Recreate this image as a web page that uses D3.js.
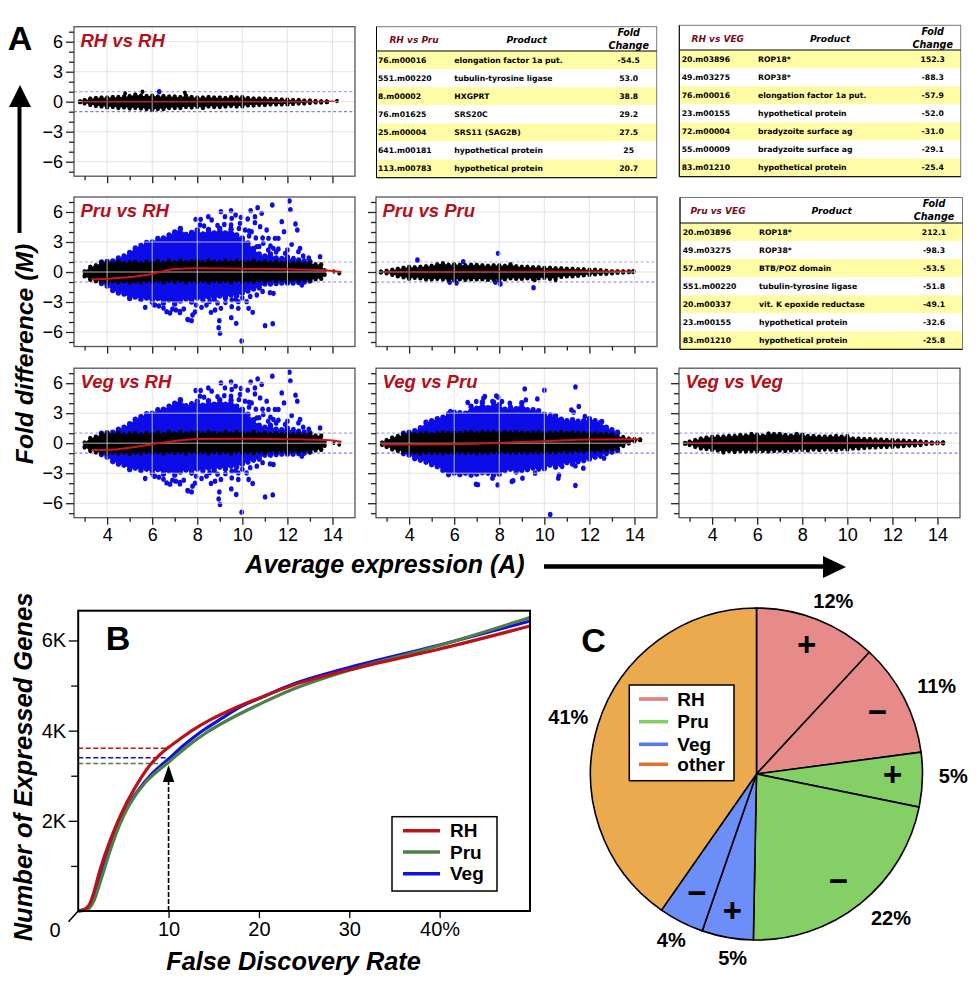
<!DOCTYPE html>
<html>
<head>
<meta charset="utf-8">
<script src="https://cdn.jsdelivr.net/npm/d3@7"></script>
<style>
  html, body { margin: 0; padding: 0; background: #fff; }
  svg { display: block; }
  text { font-family: "Liberation Sans", Arial, sans-serif; fill: #000; }
  .tbl text { font-family: "DejaVu Sans", Verdana, sans-serif; font-weight: bold; font-size: 7.7px; }
</style>
</head>
<body>
<div id="chart"></div>
<script>
// ---- panel A: cloud outlines, rows are [A, lowest M, highest M]
const rhRhBlack = [[2.8,-.1,.1],[3,-.25,.25],[3.25,-.4,.4],[3.5,-.5,.45],[3.75,-.55,.5],[4,-.65,.5],[4.25,-.6,.55],[4.5,-.7,.55],[4.75,-.65,.6],[5,-.75,.65],[5.25,-.7,.8],[5.5,-.75,.7],[5.75,-.8,.65],[6,-.9,.7],[6.25,-.8,.6],[6.5,-.8,.65],[6.75,-.7,.6],[7,-.7,.6],[7.25,-.7,.55],[7.5,-.6,.7],[7.75,-.65,.55],[8,-.6,.5],[8.25,-.7,.5],[8.5,-.55,.55],[8.75,-.6,.5],[9,-.6,.5],[9.25,-.55,.45],[9.5,-.5,.55],[9.75,-.55,.5],[10,-.55,.55],[10.25,-.45,.45],[10.5,-.45,.4],[10.75,-.4,.4],[11,-.4,.4],[11.25,-.35,.35],[11.5,-.35,.35],[11.75,-.35,.3],[12,-.35,.3],[12.25,-.3,.25],[12.5,-.25,.25],[12.75,-.25,.2],[13,-.2,.2],[13.25,-.15,.15],[13.5,-.15,.12],[13.75,-.1,.1]];
const pruPruBlack = [[2.75,-.08,.08],[3,-.2,.2],[3.25,-.35,.3],[3.5,-.5,.4],[3.75,-.6,.5],[4,-.75,.6],[4.25,-.65,.55],[4.5,-.7,.6],[4.75,-.8,.65],[5,-.8,.7],[5.25,-.75,.85],[5.5,-.8,.95],[5.75,-.85,.8],[6,-.9,.85],[6.25,-.8,.8],[6.5,-.85,.75],[6.75,-.8,.8],[7,-.8,.8],[7.25,-.8,.75],[7.5,-.85,.7],[7.75,-.85,.75],[8,-.9,.75],[8.25,-.8,.7],[8.5,-.7,.85],[8.75,-.75,.65],[9,-.75,.6],[9.25,-.7,.6],[9.5,-.8,.55],[9.75,-.7,.55],[10,-.65,.5],[10.25,-.75,.5],[10.5,-.7,.45],[10.75,-.55,.45],[11,-.5,.4],[11.25,-.5,.4],[11.5,-.45,.35],[11.75,-.4,.35],[12,-.35,.3],[12.25,-.3,.3],[12.5,-.25,.25],[12.75,-.25,.2],[13,-.2,.15],[13.25,-.15,.15],[13.5,-.1,.12],[13.75,-.06,.1],[13.95,-.02,.1]];
const vegVegBlack = [[2.8,-.1,.1],[3,-.25,.25],[3.25,-.45,.4],[3.5,-.6,.55],[3.75,-.65,.65],[4,-.73,.73],[4.25,-.8,.75],[4.5,-1,.75],[4.75,-.85,.8],[5,-.95,.8],[5.25,-.85,.9],[5.5,-.9,.85],[5.75,-.85,1.0],[6,-.9,.95],[6.25,-.85,.85],[6.5,-.9,1.05],[6.75,-.85,1.0],[7,-.8,1.0],[7.25,-.85,.9],[7.5,-.8,.85],[7.75,-.75,1.0],[8,-.75,.95],[8.25,-.8,.8],[8.5,-.7,.8],[8.75,-.75,.75],[9,-.7,.75],[9.25,-.7,.75],[9.5,-.75,.8],[9.75,-.65,.75],[10,-.7,.8],[10.25,-.6,.55],[10.5,-.6,.55],[10.75,-.55,.5],[11,-.5,.5],[11.25,-.5,.45],[11.5,-.45,.45],[11.75,-.45,.4],[12,-.45,.4],[12.25,-.4,.35],[12.5,-.35,.35],[12.75,-.3,.3],[13,-.3,.3],[13.25,-.25,.25],[13.5,-.15,.2],[13.75,-.12,.15],[14,-.08,.15],[14.25,-.03,.1]];

const pruRhBlack = [[3,-.5,.15],[3.25,-.85,.6],[3.5,-1,.75],[3.75,-1.05,1],[4,-1.15,1.1],[4.25,-1,.95],[4.5,-1.1,1.15],[4.75,-1,.95],[5,-1.15,1.05],[5.25,-1,1.1],[5.5,-1.1,.95],[5.75,-.95,1.1],[6,-1.05,1],[6.25,-.95,1.15],[6.5,-1.1,1],[6.75,-.95,1.2],[7,-1.05,1.05],[7.25,-.95,1.2],[7.5,-1.1,1.05],[7.75,-.95,1.15],[8,-1.05,1.2],[8.25,-.95,1.05],[8.5,-1.1,1.2],[8.75,-.95,1.1],[9,-1.05,1.05],[9.25,-.95,1.2],[9.5,-1.1,1.05],[9.75,-.9,1.2],[10,-1.05,1.1],[10.25,-.95,1.05],[10.5,-1.05,1.2],[10.75,-.9,1.05],[11,-1.05,1.15],[11.25,-.85,1],[11.5,-1,1.1],[11.75,-.85,1],[12,-1,1.05],[12.25,-.85,.95],[12.5,-.95,1.05],[12.75,-.85,.9],[13,-.9,1],[13.25,-.8,.85],[13.5,-.75,.85],[13.65,-.35,.25]];
const pruRhBlue = [[3.75,-1.25,1.1],[4,-1.5,1.15],[4.25,-1.95,1.2],[4.5,-2.2,1.5],[4.75,-2.3,1.7],[5,-2.75,2.05],[5.25,-2.6,2.5],[5.5,-2.85,2.75],[5.75,-2.7,3.05],[6,-3.1,3.1],[6.25,-2.75,3.45],[6.5,-3.2,3.5],[6.75,-2.9,3.8],[7,-3.3,4.1],[7.25,-3,4.45],[7.5,-2.8,3.85],[7.75,-3.1,4.05],[8,-2.7,4.3],[8.25,-2.9,3.9],[8.5,-2.6,4.35],[8.75,-2.85,4],[9,-2.5,4.45],[9.25,-2.7,4],[9.5,-2.4,4.4],[9.75,-2.5,3.8],[10,-2.2,3.5],[10.25,-2,3],[10.5,-1.8,2.45],[10.75,-1.7,1.9],[11,-1.3,1.7],[11.25,-1.3,1.9],[11.5,-1.25,1.5],[11.75,-1.2,1.45],[12,-1.2,1.6],[12.25,-1.2,1.3],[12.5,-1.15,1.3],[12.75,-1.1,1.2],[13,-1,1.15]];
const vegPruBlack = [[2.8,-.25,.15],[3,-.45,.4],[3.25,-.7,.65],[3.5,-.85,.8],[3.75,-.95,.95],[4,-1.05,1.1],[4.25,-1,1],[4.5,-1.1,1.05],[4.75,-1,1.1],[5,-1.05,1],[5.25,-1,1.1],[5.5,-1.1,1.15],[5.75,-1,1.1],[6,-1.05,1.15],[6.25,-.95,1.1],[6.5,-1.05,1.15],[6.75,-1,1.2],[7,-1.05,1.1],[7.25,-1,1.2],[7.5,-1.05,1.15],[7.75,-.95,1.2],[8,-1,1.15],[8.25,-.95,1.2],[8.5,-1,1.15],[8.75,-1,1.2],[9,-.95,1.15],[9.25,-1,1.1],[9.5,-.95,1.15],[9.75,-1,1.2],[10,-.95,1.1],[10.25,-.95,1.15],[10.5,-1,1.1],[10.75,-.9,1.2],[11,-.95,1.1],[11.25,-.9,1.15],[11.5,-.85,1.1],[11.75,-.9,1.1],[12,-.8,1.05],[12.25,-.85,1.05],[12.5,-.8,1],[12.75,-.75,1],[13,-.7,.95],[13.25,-.6,.8],[13.5,-.35,.7],[13.75,-.1,.55],[14,.1,.5],[14.25,.25,.45]];
const vegPruBlue = [[3.75,-1.15,1.1],[4,-1.3,1.2],[4.25,-1.65,1.35],[4.5,-1.8,1.65],[4.75,-2,2.2],[5,-2.25,2.35],[5.25,-2.45,2.55],[5.5,-2.85,2.7],[5.75,-3.25,3.05],[6,-3.1,3.2],[6.25,-3.25,3.15],[6.5,-3.1,3.1],[6.75,-3.3,3.8],[7,-3.2,3.6],[7.25,-3.05,4.2],[7.5,-3.1,3.65],[7.75,-3.3,4.2],[8,-3.2,3.95],[8.25,-2.85,3.5],[8.5,-2.7,3.7],[8.75,-3,3.55],[9,-2.85,4.15],[9.25,-2.75,3.45],[9.5,-2.6,3.45],[9.75,-2.7,3.35],[10,-2.65,3],[10.25,-2.3,2.75],[10.5,-2.5,2.85],[10.75,-2.3,2.5],[11,-2.05,2.35],[11.25,-2.2,2.45],[11.5,-1.95,2.3],[11.75,-1.85,2.35],[12,-1.7,2.55],[12.25,-1.5,2.35],[12.5,-1.4,2.2],[12.75,-1.15,1.7],[13,-1,1.45],[13.25,-.85,1.2]];

// single spots outside the dense clouds, [A, M]
const rhRhSpots = [[5.57,1],[7.45,.9],[4.8,.82],[14.2,.08]];
const rhRhDots = [[6.31,1]];
const pruPruSpots = [[9.58,-.8],[10.5,-.8]];
const pruPruDots = [[4.37,1.2],[6.4,1.03],[7.95,1.87],[5.8,-1.03],[6.1,-1.1],[7.83,-1.03],[8.05,-1.2],[9.52,-1.57]];
const rhTailBlack = [[14.05,.05],[14.3,-.12]];
const vegPruSpots = [];
const pruRhDots = [[7.93,5.27],[8.15,5.27],[8.12,4.7],[8.49,5.53],[8.64,5.2],[9.05,6.03],[9.23,5.53],[9.5,6.13],[9.53,5.37],[9.7,5.7],[9.94,5.47],[10.24,5.3],[10.37,6.13],[10.56,4.93],[10.68,6.43],[10.86,5.87],[11.33,6.7],[12.09,7.1],[12.13,6.23],[11.75,5.03],[11.85,4.03],[12.36,4.8],[12.44,4.2],[10.56,5.53],[10.79,4.53],[9.9,4.87],[10.12,4.2],[10.41,4.03],[11.08,4.2],[11.16,3.37],[11.45,3.37],[11.6,3.37],[12.19,2.77],[12.56,2.37],[12.49,2.03],[11.9,1.87],[11.38,2.37],[10.93,2.87],[10.64,2.53],[11.82,1.2],[12.27,1.37],[13.45,1.53],[8.3,4.6],[8.9,4.65],[9.2,4.75],[9.5,4.7],[9.85,4.35],[10.3,3.6],[10.6,3.4],[10.9,3.4],[11.25,2.6],[11.6,2.3],[9.97,-6.9],[9.01,-6.13],[8.95,-5.57],[8.98,-4.87],[9.51,-4.57],[9.73,-5.13],[11.01,-5.37],[11.35,-5.17],[11.23,-2.07],[11.38,-2.13],[12.64,-1.3],[10.64,-2.3],[10.46,-4.03],[10.28,-3.63],[10.19,-2.97],[9.82,-3.63],[9.53,-3.47],[9.82,-2.97],[9.53,-2.8],[9.05,-3.63],[8.79,-3.8],[8.61,-4.03],[8.41,-3.3],[8.19,-3.53],[7.79,-4.3],[7.75,-4.87],[7.57,-4.73],[7.23,-4.07],[6.64,-3.97],[5.69,-3.53],[6.12,-3.3],[6.07,-3.27],[6.79,-4.1],[7.23,-3.93],[7.6,-4.77],[7.9,-4],[7.4,-3.7],[6.9,-3.7],[6.5,-3.6],[6.3,-3.4],[7.05,-3.8],[8.9,-3.1],[9.25,-3.05],[9.7,-2.75],[10,-2.6],[10.35,-2.45],[10.9,-1.95],[8.55,-2.95],[7.95,-3.3],[10.3,4.1],[10.75,2.55],[11.15,2.2],[11.5,2],[12,2.2],[12.7,1.6],[12.95,1.4]];
const vegPruDots = [[9.13,5.43],[10,5.3],[11.38,5.63],[7.36,4.67],[7.87,4.73],[7.7,4.17],[6.6,4.07],[6.98,4.17],[8.12,4.17],[8.47,4],[9.18,4.33],[9.69,4.43],[11.53,3.67],[11.2,3.33],[11.3,3.1],[12.56,2.17],[11.8,2.67],[5.83,3.17],[10.27,2.83],[7.3,4.5],[7.95,4.6],[10.26,-7.13],[11.38,-4.23],[6.97,-4.1],[7.05,-4.15],[7.93,-4.17],[8.56,-3.83],[8.62,-3.75],[9.03,-3.5],[10.65,-3.17],[10.62,-3.5],[7.7,-3.5],[9.59,-3],[11.73,-2.5],[11.38,-2.27],[10.79,-2.33],[12.65,-1.5]];

// red loess lines, [A, M]
const rhRhLoess = [[2.9,0],[6,.0],[10,0],[13,0],[14.1,.05]];
const pruPruLoess = [[2.8,0],[6,.02],[10,.05],[13.9,.08]];
const vegVegLoess = [[2.85,0],[6,0],[10,0],[14.2,.05]];
const pruRhLoess = [[3.3,-.73],[4,-.67],[5.15,-.47],[6,-.2],[6.9,.27],[8,.37],[10,.33],[12,.27],[13.5,.2],[14.4,0]];
const vegRhLoess = [[3.3,-.67],[4,-.67],[5.15,-.4],[6,-.1],[7,.23],[8,.43],[10,.45],[12,.4],[14,.27],[14.4,.15]];
const vegPruLoess = [[2.8,-.13],[5.7,-.1],[8,.03],[10,.2],[12,.37],[14.2,.4]];

// ---- gene tables
const rhPruRows = [["76.m00016","elongation factor 1a put.","-54.5"],["551.m00220","tubulin-tyrosine ligase","53.0"],["8.m00002","HXGPRT","38.8"],["76.m01625","SRS20C","29.2"],["25.m00004","SRS11 (SAG2B)","27.5"],["641.m00181","hypothetical protein","25"],["113.m00783","hypothetical protein","20.7"]];
const rhVegRows = [["20.m03896","ROP18*","152.3"],["49.m03275","ROP38*","-88.3"],["76.m00016","elongation factor 1a put.","-57.9"],["23.m00155","hypothetical protein","-52.0"],["72.m00004","bradyzoite surface ag","-31.0"],["55.m00009","bradyzoite surface ag","-29.1"],["83.m01210","hypothetical protein","-25.4"]];
const pruVegRows = [["20.m03896","ROP18*","212.1"],["49.m03275","ROP38*","-98.3"],["57.m00029","BTB/POZ domain","-53.5"],["551.m00220","tubulin-tyrosine ligase","-51.8"],["20.m00337","vit. K epoxide reductase","-49.1"],["23.m00155","hypothetical protein","-32.6"],["83.m01210","hypothetical protein","-25.8"]];

// ---- panel B: [FDR %, genes in thousands]
const rhCurve = [[0,0],[.73,.04],[1.2,.13],[1.7,.39],[2.45,.94],[3.6,1.6],[4.75,2.15],[6.1,2.67],[7.8,3.2],[9,3.46],[10,3.63],[11.3,3.82],[12.8,4.03],[14.7,4.25],[17,4.47],[20,4.72],[23.9,5.02],[30,5.35],[40,5.81],[50,6.32]];
const pruCurve = [[0,0],[1.1,.04],[1.7,.21],[2.45,.65],[3.6,1.38],[4.56,1.9],[5.7,2.37],[7.43,2.85],[8.7,3.09],[10,3.3],[12,3.64],[14.3,3.97],[17,4.28],[20,4.58],[23.9,4.93],[30,5.34],[40,5.89],[50,6.51]];
const vegCurve = [[0,0],[.92,.04],[1.5,.17],[2.07,.46],[2.84,1.05],[4,1.71],[5.13,2.19],[6.47,2.63],[8.2,3.05],[10,3.37],[11.65,3.67],[13.56,3.97],[15.86,4.27],[18.16,4.55],[20,4.71],[23.9,5.04],[30,5.4],[40,5.9],[50,6.43]];
const fdrMarks = [["RH",3.61],["Veg",3.4],["Pru",3.27]];
const fdrTicks = [10,20,30,40];
const geneTicks = [1,2,3,4,5,6];

// ---- panel C
const pieLabels = ["12%","11%","5%","22%","5%","4%","41%"];
const pieSigns = ["+","\u2212","+","\u2212","+","\u2212",""];
const pieGroups = ["RH","RH","Pru","Pru","Veg","Veg","other"];
const pieValues = [11.9,11.0,5.3,22.1,5.0,4.4,40.3];

const width = 976, height = 988;
const svg = d3.select("#chart").append("svg").attr("width", width).attr("height", height);

const RED = "#b3101a";
const panelW = 281, panelH = 149.5;
const colX = [74, 376, 679];
const rowY = [26.7, 197, 368.2];

function maPanel(col, row, o) {
  const x0 = colX[col], y0 = rowY[row];
  const x = d3.scaleLinear().domain([2.53, 15]).range([x0, x0 + panelW]);
  const y = d3.scaleLinear().domain([-7.45, 7.5]).range([y0 + panelH, y0]);
  const g = svg.append("g");

  [-1, 1].forEach(m => {
    g.append("line").attr("x1", x0).attr("x2", x0 + panelW).attr("y1", y(m)).attr("y2", y(m))
      .attr("stroke", m > 0 ? "#a3a3ec" : "#7c7ce4").attr("stroke-width", 1.2).attr("stroke-dasharray", "3,2.4");
  });

  const spots = (rows, color, r) => {
    g.selectAll(null).data(rows).enter().append("ellipse")
      .attr("cx", d => x(d[0])).attr("cy", d => y(d[1]))
      .attr("rx", r).attr("ry", r + .35).attr("fill", color);
  };
  // outlines were read at the outer edge of the dots, so the dots sit just inside them
  // and the fill only joins their centres, that leaves the bumpy edge
  const band = (rows, color, r) => {
    const inset = r * .05;
    const inner = rows.map(d => {
      const mid = (d[1] + d[2]) / 2;
      return [d[0], Math.min(d[1] + inset, mid), Math.max(d[2] - inset, mid)];
    });
    g.append("path").datum(inner)
      .attr("fill", color)
      .attr("d", d3.area().x(d => x(d[0])).y0(d => y(d[1])).y1(d => y(d[2])));
    spots(inner.flatMap(d => [[d[0], d[1]], [d[0], d[2]]]), color, r);
  };

  if (o.blue) band(o.blue, "#0c0ce8", 2.7);
  if (o.dots) spots(o.dots, "#0c0ce8", 2.3);
  band(o.black, "#000", 2.2);
  if (o.spots) spots(o.spots, "#000", 1.9);

  // grid sits over the clouds, it shows through in the picture
  const grid = g.append("g").attr("stroke", "#dcdcdc").attr("stroke-opacity", .8).attr("stroke-width", 1);
  grid.selectAll(null).data([4,6,8,10,12,14]).enter().append("line")
    .attr("x1", d => x(d)).attr("x2", d => x(d)).attr("y1", y0).attr("y2", y0 + panelH);
  grid.selectAll(null).data([-6,-3,0,3,6]).enter().append("line")
    .attr("x1", x0).attr("x2", x0 + panelW).attr("y1", d => y(d)).attr("y2", d => y(d));

  g.append("path").datum(o.loess).attr("fill", "none").attr("stroke", "#d0141c").attr("stroke-width", o.blue ? 2 : 1.3)
    .attr("d", d3.line().x(d => x(d[0])).y(d => y(d[1])).curve(d3.curveMonotoneX));

  g.append("rect").attr("x", x0).attr("y", y0).attr("width", panelW).attr("height", panelH)
    .attr("fill", "none").attr("stroke", "#555").attr("stroke-width", 1.3);

  // axes, long ticks and short ticks
  const tickText = sel => sel.selectAll("text").attr("font-size", 18).style("font-family", "Liberation Sans");
  const ay = svg.append("g").attr("transform", `translate(${x0},0)`);
  ay.call(d3.axisLeft(y).tickValues(d3.range(-7, 8).filter(d => d % 3 !== 0)).tickSize(5).tickFormat(""));
  const ayMajor = svg.append("g").attr("transform", `translate(${x0},0)`);
  ayMajor.call(d3.axisLeft(y).tickValues([-6,-3,0,3,6]).tickSize(8).tickPadding(3).tickFormat(col === 0 ? d3.format("d") : ""));
  ayMajor.call(tickText);
  const ax = svg.append("g").attr("transform", `translate(0,${y0 + panelH})`);
  ax.call(d3.axisBottom(x).tickValues([3,5,7,9,11,13]).tickSize(4).tickFormat(""));
  const axMajor = svg.append("g").attr("transform", `translate(0,${y0 + panelH})`);
  axMajor.call(d3.axisBottom(x).tickValues([4,6,8,10,12,14]).tickSize(7).tickPadding(4).tickFormat(row === 2 ? d3.format("d") : ""));
  axMajor.call(tickText);
  [ay, ayMajor, ax, axMajor].forEach(a => {
    a.select(".domain").remove();
    a.selectAll("line").attr("stroke", "#222").attr("stroke-width", 1.3);
  });

  svg.append("text").attr("x", x0 + 6.5).attr("y", y0 + 20)
    .attr("font-size", 18.5).attr("font-weight", "bold").attr("font-style", "italic")
    .style("fill", RED).text(o.title);
}

maPanel(0, 0, { title: "RH vs RH", black: rhRhBlack, spots: rhRhSpots, dots: rhRhDots, loess: rhRhLoess });
maPanel(0, 1, { title: "Pru vs RH", black: pruRhBlack, blue: pruRhBlue, dots: pruRhDots, spots: rhTailBlack, loess: pruRhLoess });
maPanel(1, 1, { title: "Pru vs Pru", black: pruPruBlack, spots: pruPruSpots, dots: pruPruDots, loess: pruPruLoess });
maPanel(0, 2, { title: "Veg vs RH", black: pruRhBlack, blue: pruRhBlue, dots: pruRhDots, spots: rhTailBlack, loess: vegRhLoess });
maPanel(1, 2, { title: "Veg vs Pru", black: vegPruBlack, blue: vegPruBlue, dots: vegPruDots, spots: vegPruSpots, loess: vegPruLoess });
maPanel(2, 2, { title: "Veg vs Veg", black: vegVegBlack, loess: vegVegLoess });

function geneTable(t) {
  const g = svg.append("g").attr("class", "tbl");
  const rowH = (t.bottom - t.line) / 7;
  g.selectAll(null).data(t.rows).enter().append("rect")
    .attr("x", t.left).attr("width", t.right - t.left)
    .attr("y", (d, i) => t.line + i * rowH).attr("height", rowH)
    .attr("fill", (d, i) => i % 2 ? "#fff" : "#fffca6");
  g.append("rect").attr("x", t.left).attr("y", t.top).attr("width", t.right - t.left).attr("height", t.bottom - t.top)
    .attr("fill", "none").attr("stroke", "#777").attr("stroke-width", 1);
  g.append("path").attr("fill", "none").attr("stroke", "#000").attr("stroke-width", 1)
    .attr("d", `M${t.left},${t.top}V${t.bottom}H${t.right}M${t.left},${t.line}H${t.right}`);

  t.rows.forEach((r, i) => {
    const cy = t.line + (i + .5) * rowH + 2.7;
    g.append("text").attr("x", t.c1).attr("y", cy).text(r[0]);
    g.append("text").attr("x", t.c2).attr("y", cy).text(r[1]);
    g.append("text").attr("x", t.c3).attr("y", cy).attr("text-anchor", "middle").text(r[2]);
  });
  const head = (txt, xx, yy, color, size) => g.append("text").attr("x", xx).attr("y", yy)
    .attr("text-anchor", "middle").attr("font-style", "italic")
    .style("font-size", size + "px").style("fill", color).text(txt);
  head(t.title, t.h1, t.top + 16.5, "#7a0a14", 9);
  head("Product", t.h2, t.top + 16.5, "#000", 9.2);
  head("Fold", t.c3, t.top + 9.5, "#000", 9.6);
  head("Change", t.c3, t.top + 22.5, "#000", 9.6);
}
geneTable({ title: "RH vs Pru", rows: rhPruRows, left: 376.5, right: 656.7, top: 26.7, line: 51, bottom: 177.7, c1: 378, c2: 454.3, c3: 628.7, h1: 414, h2: 526.7 });
geneTable({ title: "RH vs VEG", rows: rhVegRows, left: 679.3, right: 960.7, top: 25.3, line: 50, bottom: 176.7, c1: 681.7, c2: 758, c3: 932.7, h1: 717.7, h2: 830 });
geneTable({ title: "Pru vs VEG", rows: pruVegRows, left: 680, right: 962.5, top: 197.5, line: 223, bottom: 349.3, c1: 682.7, c2: 759, c3: 934, h1: 718, h2: 831.7 });

// panel letters and the two big arrows
[["A", 20, 50], ["B", 118, 650], ["C", 593.5, 652]].forEach(d => {
  svg.append("text").attr("x", d[1]).attr("y", d[2]).attr("text-anchor", "middle")
    .attr("font-size", 34).attr("font-weight", "bold").text(d[0]);
});
svg.append("line").attr("x1", 19.5).attr("x2", 19.5).attr("y1", 233).attr("y2", 105).attr("stroke", "#000").attr("stroke-width", 4);
svg.append("path").attr("d", "M9,107L31,107L20,85Z");
svg.append("line").attr("x1", 544).attr("x2", 825).attr("y1", 566.5).attr("y2", 566.5).attr("stroke", "#000").attr("stroke-width", 4.5);
svg.append("path").attr("d", "M823,556L823,578L846,567Z");

const axisLabel = (txt, size) => svg.append("text").attr("font-size", size).attr("font-weight", "bold")
  .attr("font-style", "italic").attr("text-anchor", "middle").text(txt);
axisLabel("Fold difference (M)", 24.7).attr("transform", "translate(33,354) rotate(-90)");
axisLabel("Average expression (A)", 25).attr("x", 385).attr("y", 573);

// ---- panel B
const bx = d3.scaleLinear().domain([0, 50]).range([78.2, 530]);
const by = d3.scaleLinear().domain([0, 6.66]).range([911, 610.7]);
const curveLine = d3.line().x(d => bx(d[0])).y(d => by(d[1])).curve(d3.curveCatmullRom.alpha(.5));
const curveColor = { RH: "#bb1215", Pru: "#4d8049", Veg: "#1010e0" };

fdrMarks.forEach(m => {
  svg.append("line").attr("x1", bx(0)).attr("x2", bx(10)).attr("y1", by(m[1])).attr("y2", by(m[1]))
    .attr("stroke", curveColor[m[0]]).attr("stroke-width", 1.6).attr("stroke-dasharray", "5,2.5");
});
[["Veg", vegCurve], ["Pru", pruCurve], ["RH", rhCurve]].forEach(c => {
  svg.append("path").datum(c[1]).attr("fill", "none").attr("stroke", curveColor[c[0]]).attr("stroke-width", 3.2)
    .attr("d", curveLine);
});
svg.append("line").attr("x1", bx(10)).attr("x2", bx(10)).attr("y1", by(0)).attr("y2", 780)
  .attr("stroke", "#000").attr("stroke-width", 1.6).attr("stroke-dasharray", "5,2");
svg.append("path").attr("d", `M${bx(10) - 5.7},782L${bx(10) + 5.7},782L${bx(10)},765Z`);

svg.append("rect").attr("x", 78.2).attr("y", 610.7).attr("width", 451.8).attr("height", 300.3)
  .attr("fill", "none").attr("stroke", "#000").attr("stroke-width", 2);

const bAxisX = svg.append("g").attr("transform", "translate(0,911)")
  .call(d3.axisBottom(bx).tickValues(fdrTicks).tickSize(7).tickPadding(4).tickFormat(d => d === 40 ? "40%" : d));
const bAxisY = svg.append("g").attr("transform", "translate(78.2,0)")
  .call(d3.axisLeft(by).tickValues(geneTicks).tickSize(7).tickPadding(5).tickFormat(d => d % 2 ? "" : d + "K"));
bAxisY.selectAll(".tick").filter(d => d % 2 === 0).select("line").attr("x2", -9.5);
[bAxisX, bAxisY].forEach(a => {
  a.select(".domain").remove();
  a.selectAll("line").attr("stroke", "#000").attr("stroke-width", 1.3);
  a.selectAll("text").attr("font-size", 20).style("font-family", "Liberation Sans");
});
svg.append("line").attr("x1", bx(0)).attr("y1", by(0)).attr("x2", 68.5).attr("y2", 921.7).attr("stroke", "#000").attr("stroke-width", 1.5);
svg.append("text").attr("x", 55).attr("y", 937).attr("text-anchor", "middle").attr("font-size", 20).text("0");

axisLabel("False Discovery Rate", 25.3).attr("x", 293.5).attr("y", 970);
axisLabel("Number of Expressed Genes", 25.5).attr("transform", "translate(32,767) rotate(-90)");

function legendBox(b, names, colors) {
  svg.append("rect").attr("x", b.x).attr("y", b.y).attr("width", b.w).attr("height", b.h)
    .attr("fill", "#fff").attr("stroke", "#000").attr("stroke-width", 1.5);
  names.forEach((n, i) => {
    svg.append("line").attr("x1", b.lx0).attr("x2", b.lx1).attr("y1", b.ly[i]).attr("y2", b.ly[i])
      .attr("stroke", colors[n]).attr("stroke-width", b.lw);
    svg.append("text").attr("x", b.tx).attr("y", b.ly[i] + 6.7).attr("font-size", 19).attr("font-weight", "bold").text(n);
  });
}
legendBox({ x: 392, y: 816.7, w: 105, h: 74.3, lx0: 403, lx1: 440, ly: [830.7, 852, 873.7], tx: 450, lw: 3.6 }, ["RH", "Pru", "Veg"], curveColor);

// ---- panel C
const pieFill = { RH: "#e68a8a", Pru: "#85d066", Veg: "#6c8ef8", other: "#ebaa4e" };
const pieCx = 756.5, pieCy = 774, pieR = 166;
const arc = d3.arc().innerRadius(0).outerRadius(pieR);
const slices = d3.pie().sort(null)(pieValues);
svg.append("g").attr("transform", `translate(${pieCx},${pieCy})`)
  .selectAll("path").data(slices).enter().append("path")
  .attr("d", arc).attr("fill", (d, i) => pieFill[pieGroups[i]])
  .attr("stroke", "#000").attr("stroke-width", 1.6);

const pieLabelAt = [[833.3,601],[936.7,686],[953.3,776],[891,918.3],[732.7,957.7],[671.3,940],[568.3,716.7]];
const pieSignAt = [[806.7,644.3],[877.3,711],[892.7,774.3],[838.3,880],[732.3,910],[697,892.7]];
pieLabels.forEach((t, i) => {
  svg.append("text").attr("x", pieLabelAt[i][0]).attr("y", pieLabelAt[i][1] + 7).attr("text-anchor", "middle")
    .attr("font-size", 20).attr("font-weight", "bold").text(t);
});
pieSigns.forEach((t, i) => {
  if (!t) return;
  svg.append("text").attr("x", pieSignAt[i][0]).attr("y", pieSignAt[i][1] + 11.5).attr("text-anchor", "middle")
    .attr("font-size", 33).attr("font-weight", "bold").text(t);
});
legendBox({ x: 629.3, y: 685, w: 104.7, h: 95.7, lx0: 639, lx1: 668, ly: [699, 721.7, 744.3, 764.3], tx: 677.3, lw: 3.6 },
  ["RH", "Pru", "Veg", "other"], { RH: "#e08080", Pru: "#85d066", Veg: "#5878f0", other: "#e07030" });
</script>
</body>
</html>
